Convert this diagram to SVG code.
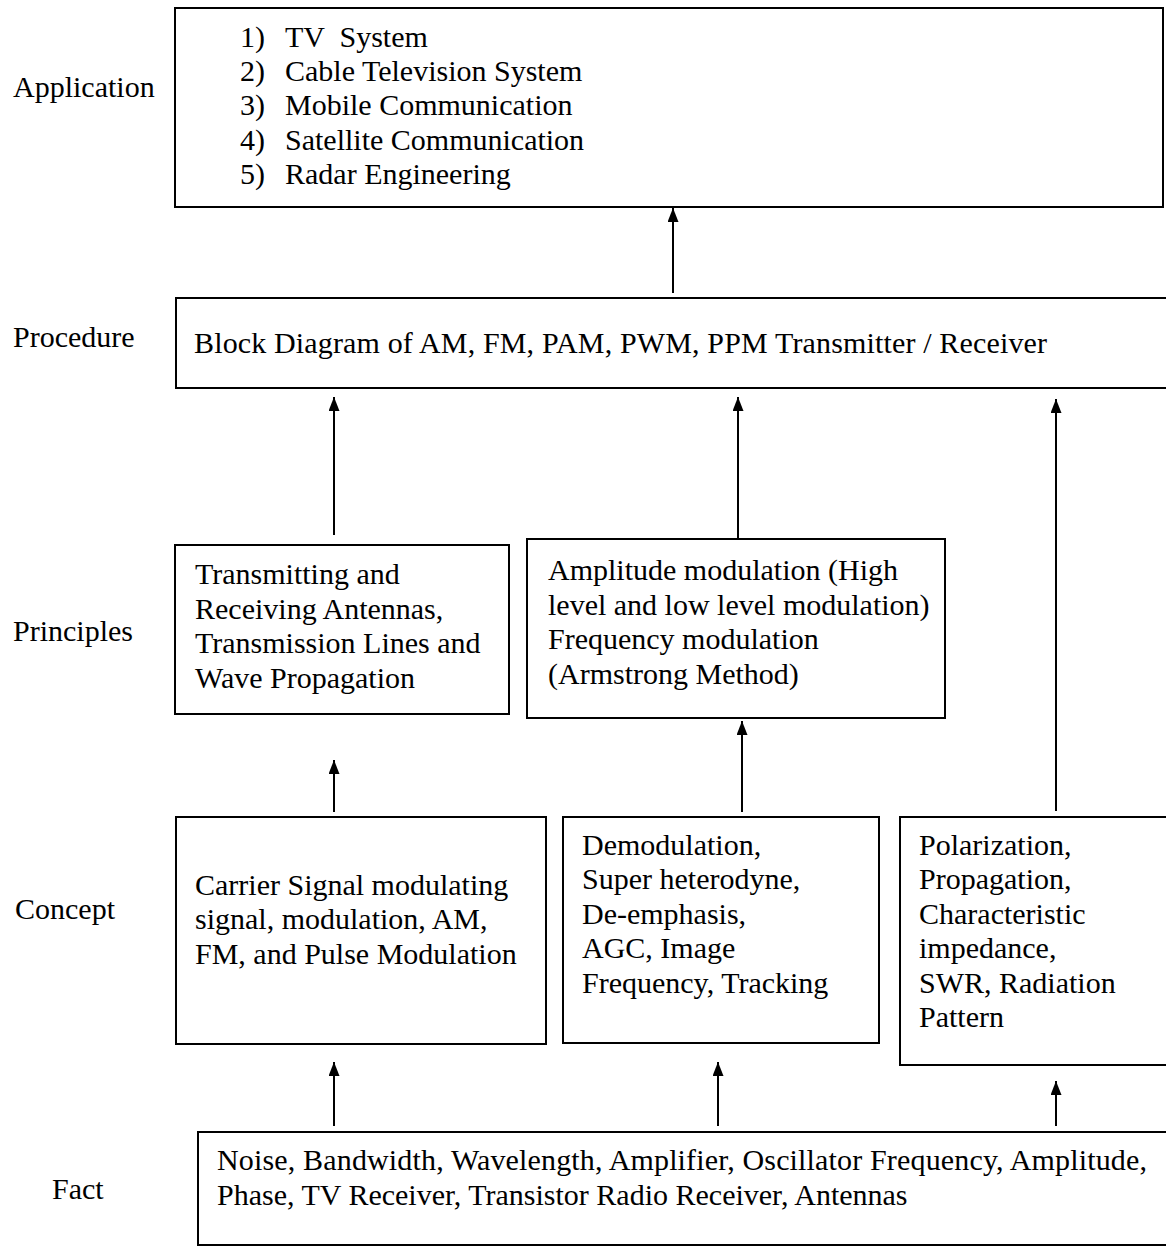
<svg xmlns="http://www.w3.org/2000/svg" width="1166" height="1247" viewBox="0 0 1166 1247">
<style>
text{font-family:"Liberation Serif","Times New Roman",serif;font-size:30px;fill:#000}
.box{fill:#fff;stroke:#000;stroke-width:2}
.conn line{stroke:#000;stroke-width:2}
</style>
<defs>
<marker id="ah" markerUnits="userSpaceOnUse" viewBox="0 0 14 11" markerWidth="14" markerHeight="11" refX="14" refY="5.5" orient="auto">
<path d="M0,0 L14,5.5 L0,11 z" fill="#000"/>
</marker>
</defs>
<rect width="1166" height="1247" fill="#fff"/>
<g id="labels">
<text x="13" y="97">Application</text>
<text x="13" y="347">Procedure</text>
<text x="13" y="641">Principles</text>
<text x="15" y="919">Concept</text>
<text x="52" y="1199">Fact</text>
</g>
<g id="application">
<rect class="box" x="175" y="8" width="988" height="199"/>
<text x="240" y="47">1)</text><text x="285" y="47" xml:space="preserve">TV  System</text>
<text x="240" y="81">2)</text><text x="285" y="81">Cable Television System</text>
<text x="240" y="115">3)</text><text x="285" y="115">Mobile Communication</text>
<text x="240" y="150">4)</text><text x="285" y="150">Satellite Communication</text>
<text x="240" y="184">5)</text><text x="285" y="184">Radar Engineering</text>
</g>
<g id="procedure">
<rect class="box" x="176" y="298" width="1000" height="90"/>
<text x="194" y="353" textLength="853" lengthAdjust="spacing">Block Diagram of AM, FM, PAM, PWM, PPM Transmitter / Receiver</text>
</g>
<g id="principles1">
<rect class="box" x="175" y="545" width="334" height="169"/>
<text x="195" y="584">Transmitting and</text>
<text x="195" y="619">Receiving Antennas,</text>
<text x="195" y="653">Transmission Lines and</text>
<text x="195" y="688">Wave Propagation</text>
</g>
<g id="principles2">
<rect class="box" x="527" y="539" width="418" height="179"/>
<text x="548" y="580">Amplitude modulation (High</text>
<text x="548" y="615">level and low level modulation)</text>
<text x="548" y="649">Frequency modulation</text>
<text x="548" y="684">(Armstrong Method)</text>
</g>
<g id="concept1">
<rect class="box" x="176" y="817" width="370" height="227"/>
<text x="195" y="895">Carrier Signal modulating</text>
<text x="195" y="929">signal, modulation, AM,</text>
<text x="195" y="964">FM, and Pulse Modulation</text>
</g>
<g id="concept2">
<rect class="box" x="563" y="817" width="316" height="226"/>
<text x="582" y="855">Demodulation,</text>
<text x="582" y="889">Super heterodyne,</text>
<text x="582" y="924">De-emphasis,</text>
<text x="582" y="958">AGC, Image</text>
<text x="582" y="993">Frequency, Tracking</text>
</g>
<g id="concept3">
<rect class="box" x="900" y="817" width="280" height="248"/>
<text x="919" y="855">Polarization,</text>
<text x="919" y="889">Propagation,</text>
<text x="919" y="924">Characteristic</text>
<text x="919" y="958">impedance,</text>
<text x="919" y="993">SWR, Radiation</text>
<text x="919" y="1027">Pattern</text>
</g>
<g id="fact">
<rect class="box" x="198" y="1132" width="980" height="113"/>
<text x="217" y="1170" textLength="930" lengthAdjust="spacing">Noise, Bandwidth, Wavelength, Amplifier, Oscillator Frequency, Amplitude,</text>
<text x="217" y="1205">Phase, TV Receiver, Transistor Radio Receiver, Antennas</text>
</g>
<g id="connectors" class="conn">
<line x1="673" y1="293" x2="673" y2="208" marker-end="url(#ah)"/>
<line x1="334" y1="535" x2="334" y2="397" marker-end="url(#ah)"/>
<line x1="738" y1="538" x2="738" y2="397" marker-end="url(#ah)"/>
<line x1="1056" y1="811" x2="1056" y2="399" marker-end="url(#ah)"/>
<line x1="334" y1="812" x2="334" y2="760" marker-end="url(#ah)"/>
<line x1="742" y1="812" x2="742" y2="721" marker-end="url(#ah)"/>
<line x1="334" y1="1126" x2="334" y2="1062" marker-end="url(#ah)"/>
<line x1="718" y1="1126" x2="718" y2="1062" marker-end="url(#ah)"/>
<line x1="1056" y1="1126" x2="1056" y2="1081" marker-end="url(#ah)"/>
</g>
</svg>
